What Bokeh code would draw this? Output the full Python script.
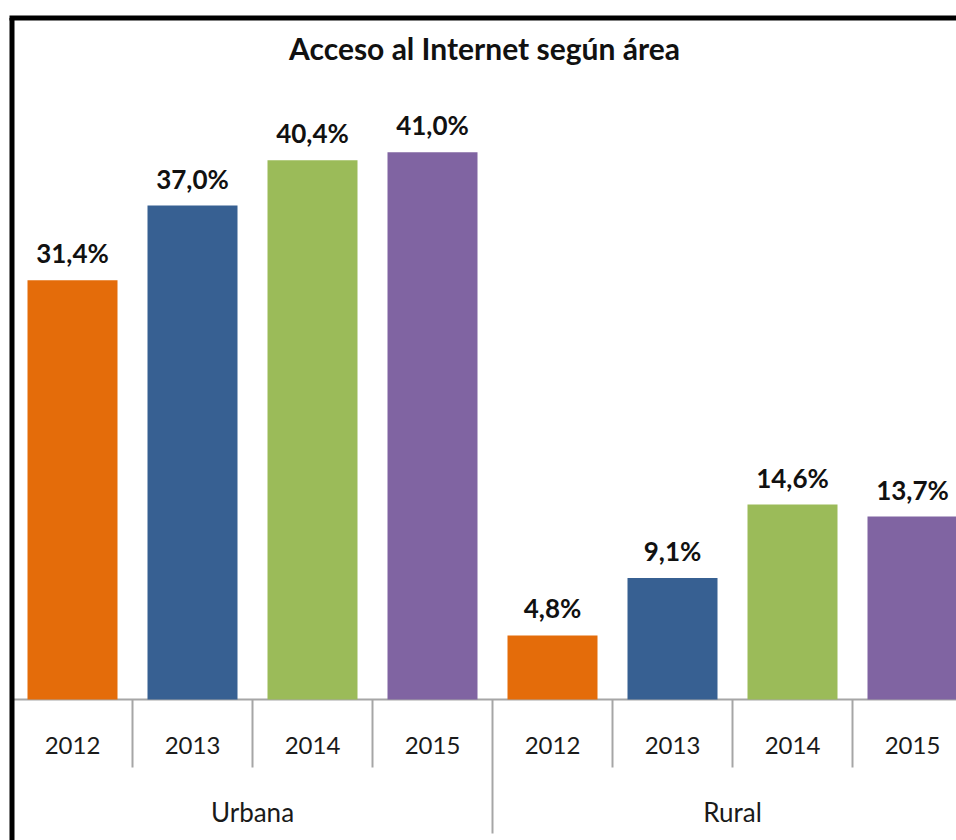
from bokeh.plotting import figure
from bokeh.models import Range1d, ColumnDataSource
from bokeh.core.properties import value
from bokeh.embed import file_html
from bokeh.resources import INLINE

# ---- data ----
title = "Acceso al Internet según área"
areas = ["Urbana", "Rural"]
years = ["2012", "2013", "2014", "2015"]
urbana = [31.4, 37.0, 40.4, 41.0]
rural = [4.8, 9.1, 14.6, 13.7]
colors = ["#E46C0A", "#376092", "#9BBB59", "#8064A2"]

# ---- layout constants (pixels) ----
W, H = 956, 840
PX_X = 120.0    # px per category slot
PX_Y = 13.35    # px per percentage point
X0 = 12         # canvas px of the first slot boundary
Y0 = 699        # canvas px of the baseline

FONT = "Lato"

p = figure(width=W, height=H, output_backend="svg", toolbar_location=None,
           x_range=Range1d(-X0 / PX_X, (W - X0) / PX_X),
           y_range=Range1d(-(H - Y0) / PX_Y, Y0 / PX_Y),
           x_axis_location=None, y_axis_location=None,
           min_border=0, min_border_left=0, min_border_right=0,
           min_border_top=0, min_border_bottom=0,
           background_fill_color="white", border_fill_color="white")
p.outline_line_color = None
p.grid.visible = False

# build table
xs, tops, cols, lbls, yl = [], [], [], [], []
for g, vals in enumerate([urbana, rural]):
    for i, v in enumerate(vals):
        xs.append(g * len(years) + i + 0.5)
        tops.append(v)
        cols.append(colors[i])
        lbls.append(f"{v:.1f}".replace(".", ",") + "%")
        yl.append(years[i])
src = ColumnDataSource(dict(x=xs, top=tops, color=cols, label=lbls, year=yl))

n_slots = len(xs)

# axis line
p.segment(x0=[0], y0=[0], x1=[n_slots], y1=[0], line_color="#A6A6A6", line_width=2)

# bars
p.vbar(x="x", top="top", bottom=0, width=0.75, fill_color="color",
       line_color=None, source=src)

# value labels
p.text(x="x", y="top", text="label", source=src, text_align="center",
       text_baseline="middle", y_offset=-27, text_font=value(FONT),
       text_font_style="bold", text_font_size="26px", text_color="#111111")

# category separators
short_x = [k for k in range(1, n_slots) if k % len(years) != 0]
p.segment(x0=short_x, y0=[0] * len(short_x), x1=short_x,
          y1=[-68 / PX_Y] * len(short_x), line_color="#A6A6A6", line_width=2)
grp_x = [k for k in range(1, n_slots) if k % len(years) == 0]
p.segment(x0=grp_x, y0=[0] * len(grp_x), x1=grp_x,
          y1=[-134 / PX_Y] * len(grp_x), line_color="#A6A6A6", line_width=2)

# year labels
p.text(x="x", y=0, text="year", source=src, text_align="center",
       text_baseline="middle", y_offset=46, text_font=value(FONT),
       text_font_size="24px", text_color="#1a1a1a")

# group labels
gx = [g * len(years) + len(years) / 2 for g in range(len(areas))]
p.text(x=gx, y=[0] * len(areas), text=areas, text_align="center",
       text_baseline="middle", y_offset=112, text_font=value(FONT),
       text_font_size="26px", text_color="#1a1a1a")

# title
p.text(x=[(484 - X0) / PX_X], y=[Y0 / PX_Y], text=[title],
       text_align="center", text_baseline="middle", y_offset=47,
       text_font=value(FONT), text_font_style="bold", text_font_size="30px",
       text_color="#111111")

# frame border (top and left)
top_y = (Y0 - 17.5) / PX_Y
left_x = (11.5 - X0) / PX_X
p.segment(x0=[left_x - 2.5 / PX_X], y0=[top_y], x1=[(W - X0) / PX_X], y1=[top_y],
          line_color="black", line_width=5, line_cap="butt")
p.segment(x0=[left_x], y0=[top_y], x1=[left_x], y1=[-(H - Y0) / PX_Y],
          line_color="black", line_width=5, line_cap="butt")

open("out.html", "w").write(file_html(p, INLINE))
